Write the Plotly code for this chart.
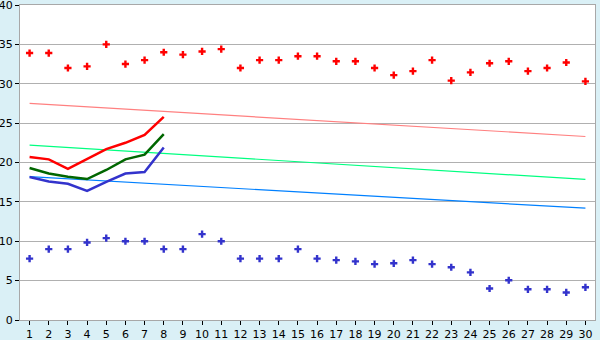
import plotly.graph_objects as go

days = list(range(1, 31))
max_points = [33.9, 33.9, 32.0, 32.2, 35.0, 32.5, 33.0, 34.0, 33.7, 34.1,
              34.4, 32.0, 33.0, 33.0, 33.5, 33.5, 32.85, 32.85, 32.0, 31.1,
              31.6, 33.0, 30.4, 31.45, 32.6, 32.85, 31.6, 32.0, 32.7, 30.3]
min_points = [7.8, 9.0, 9.0, 9.85, 10.4, 10.0, 10.0, 9.0, 9.0, 10.9,
              10.0, 7.8, 7.8, 7.8, 9.0, 7.8, 7.6, 7.45, 7.1, 7.2,
              7.6, 7.1, 6.7, 6.05, 4.0, 5.05, 3.9, 3.9, 3.5, 4.15]
trend_days = [1, 30]
trend_high = [27.5, 23.3]
trend_mid = [22.2, 17.85]
trend_low = [18.2, 14.2]
obs_days = [1, 2, 3, 4, 5, 6, 7, 8]
obs_high = [20.7, 20.4, 19.2, 20.4, 21.7, 22.5, 23.5, 25.8]
obs_mid = [19.3, 18.6, 18.2, 17.9, 19.05, 20.4, 21.0, 23.6]
obs_low = [18.15, 17.6, 17.3, 16.4, 17.55, 18.6, 18.8, 21.9]

fig = go.Figure()
fig.add_trace(go.Scatter(x=trend_days, y=trend_high, mode="lines",
                         line=dict(color="#FF8080", width=1.2)))
fig.add_trace(go.Scatter(x=trend_days, y=trend_mid, mode="lines",
                         line=dict(color="#00FF80", width=1.2)))
fig.add_trace(go.Scatter(x=trend_days, y=trend_low, mode="lines",
                         line=dict(color="#0080FF", width=1.2)))
fig.add_trace(go.Scatter(x=obs_days, y=obs_high, mode="lines",
                         line=dict(color="#FF0000", width=2.5)))
fig.add_trace(go.Scatter(x=obs_days, y=obs_mid, mode="lines",
                         line=dict(color="#006600", width=2.5)))
fig.add_trace(go.Scatter(x=obs_days, y=obs_low, mode="lines",
                         line=dict(color="#3333CC", width=2.5)))
fig.add_trace(go.Scatter(x=days, y=max_points, mode="markers",
                         marker=dict(symbol="cross", size=6, color="#FF0000",
                                     line=dict(width=0))))
fig.add_trace(go.Scatter(x=days, y=min_points, mode="markers",
                         marker=dict(symbol="cross", size=6, color="#3333CC",
                                     line=dict(width=0))))

fig.update_layout(
    width=600, height=340,
    margin=dict(l=20, r=5, t=5, b=20, autoexpand=False),
    paper_bgcolor="#DAF0F6",
    plot_bgcolor="#FFFFFF",
    showlegend=False,
    font=dict(family="DejaVu Sans", size=11, color="#000000"),
)
fig.update_xaxes(range=[0.5, 30.5], tickvals=days, ticktext=[str(d) for d in days],
                 showgrid=False, zeroline=False, showline=True, linecolor="#A8A8A8",
                 linewidth=1, mirror=True, ticks="outside", ticklen=4, tickcolor="#000000",
                 tickfont=dict(size=11), automargin=False, ticklabeloverflow="allow")
fig.update_yaxes(range=[0, 40], dtick=5, showgrid=True, gridcolor="#B0B0B0", gridwidth=1,
                 zeroline=False, showline=True, linecolor="#A8A8A8", linewidth=1, mirror=True,
                 ticks="outside", ticklen=4, tickcolor="#000000", tickfont=dict(size=11),
                 automargin=False, ticklabeloverflow="allow")

fig.write_html("out.html")
